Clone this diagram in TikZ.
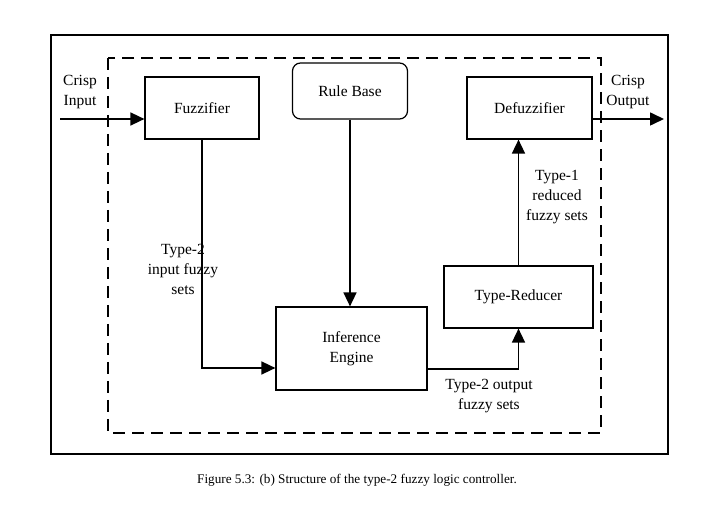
\documentclass[tikz,border=0pt]{standalone}
\usepackage{fontspec}
\setmainfont{Liberation Serif}
\usetikzlibrary{arrows.meta,calc}

\begin{document}
\begin{tikzpicture}[x=1pt,y=-1pt,
    every node/.style={font=\fontsize{15.5}{20}\selectfont},
    block/.style={draw, line width=1.2pt, align=center, inner sep=0pt},
    sigtext/.style={align=center, inner sep=0pt},
    arrow/.style={-{Triangle[length=14pt,width=13pt]}, line width=1.6pt},
]
\useasboundingbox (0,0) rectangle (713,518);
% frames
\draw[line width=1.8pt] (51,35) rectangle (668,454);
\draw[line width=1.4pt, dash pattern=on 12pt off 7pt] (108,58) rectangle (601,433);

\node[block, minimum width=114pt, minimum height=62pt] (fz) at (202,108) {Fuzzifier};
\node[block, rounded corners=8pt, minimum width=115pt, minimum height=56pt] (rb) at (350,91) {Rule Base};
\node[block, minimum width=125pt, minimum height=62pt] (df) at (529.5,108) {Defuzzifier};
\node[block, minimum width=151pt, minimum height=83pt] (ie) at (351.5,348.5) {Inference\\Engine};
\node[block, minimum width=149pt, minimum height=62pt] (tr) at (518.5,297) {Type-Reducer};

\coordinate (in) at (60,119);
\coordinate (out) at (664,119);

\draw[arrow] (in) -- ([yshift=-11pt]fz.west);
\draw[arrow] ([yshift=-11pt]df.east) -- (out);
\draw[arrow] (fz.south) |- ([yshift=-19.5pt]ie.west);
\draw[arrow] (rb.south) -- (rb.south |- ie.north);
\draw[arrow] ([yshift=-20.5pt]ie.east) -| (tr.south);
\draw[arrow] (tr.north) -- (tr.north |- df.south);

\node[sigtext] (cin) at (80,92) {Crisp\\Input};
\node[sigtext] (cout) at (628,92) {Crisp\\Output};
\node[sigtext] (t2in) at (183,269) {Type-2\\input fuzzy\\sets};
\node[sigtext] (t1red) at (557,197) {Type-1\\reduced\\fuzzy sets};
\node[sigtext] (t2out) at (489,396) {Type-2 output\\fuzzy sets};

\node[font=\fontsize{13.2}{15}\selectfont] (cap) at (357,480) {Figure 5.3: (b) Structure of the type-2 fuzzy logic controller.};
\end{tikzpicture}
\end{document}
